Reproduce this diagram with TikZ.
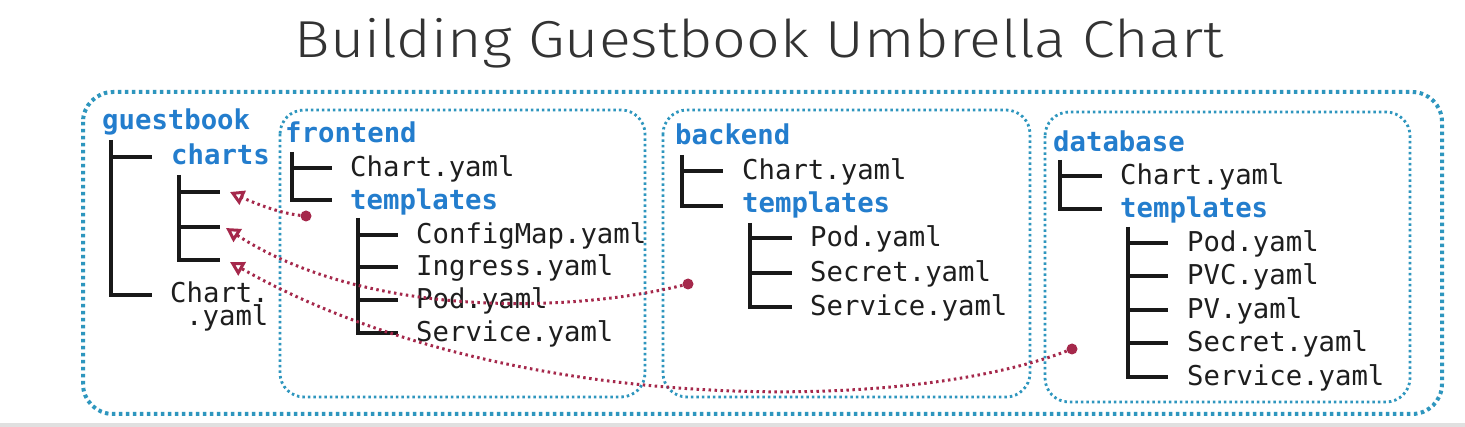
\documentclass[tikz,border=0pt]{standalone}
\usepackage{fontspec}
\setmonofont{DejaVu Sans Mono}
\newfontfamily\titlefont{Fira Sans Light}
\usetikzlibrary{arrows.meta}
\definecolor{boxcol}{RGB}{46,150,190}
\definecolor{dircol}{RGB}{35,125,205}
\definecolor{linkcol}{RGB}{165,40,75}
\definecolor{txtcol}{RGB}{30,30,30}
\tikzset{
 outerbox/.style={draw=boxcol, line width=4pt, dash pattern=on 3.5pt off 3.5pt, rounded corners=30pt},
 innerbox/.style={draw=boxcol, line width=2.8pt, dash pattern=on 2.5pt off 3pt, rounded corners=24pt},
 dirlabel/.style={anchor=base west, inner sep=0pt, font=\fontsize{27.3}{27}\selectfont\ttfamily\bfseries, text=dircol},
 filelabel/.style={anchor=base west, inner sep=0pt, font=\fontsize{27.3}{27}\selectfont\ttfamily, text=txtcol},
 treeline/.style={draw=black!90, line width=3.2pt},
 link/.style={draw=linkcol, line width=3pt, dash pattern=on 2.5pt off 3.5pt, -{Triangle[open,length=14pt,width=15pt,line width=3pt]}},
 linkdot/.style={circle, fill=linkcol, inner sep=0pt, minimum size=11pt},
}
\begin{document}
\begin{tikzpicture}[x=1pt,y=-1pt]
\useasboundingbox (0,0) rectangle (1465,427);
\fill[white] (0,0) rectangle (1465,427);
\fill[black!12] (0,423) rectangle (1465,427);

% title
\node[font=\titlefont\fontsize{52}{52}\selectfont, text=black!80, anchor=base, inner sep=0pt] (title) at (759,58) {\scalebox{1.138}[1]{Building Guestbook Umbrella Chart}};

% boxes
\draw[outerbox] (83,92) rectangle (1442,414);
\draw[innerbox] (280,110) rectangle (645,397);
\draw[innerbox] (663,110) rectangle (1030,397);
\draw[innerbox] (1045,112) rectangle (1410,402);

% guestbook
\node[dirlabel] (gb) at (102,130) {guestbook};
\node[dirlabel] (gbcharts) at (171,165) {charts};
\node[filelabel] (gbchart1) at (170,303) {Chart.};
\node[filelabel] (gbchart2) at (186,326) {.yaml};
\draw[treeline] (111,140) -- (111,295) -- (152,295);
\draw[treeline] (111,157) -- (152,157);
\draw[treeline] (179,175) -- (179,260) -- (220,260);
\draw[treeline] (179,192) -- (220,192);
\draw[treeline] (179,227) -- (220,227);

% frontend
\node[dirlabel] (fe) at (285,143) {frontend};
\draw[treeline] (292,152) -- (292,200) -- (332,200);
\draw[treeline] (292,168) -- (332,168);
\node[filelabel] (fechart) at (350,177) {Chart.yaml};
\node[dirlabel] (fetpl) at (350,210) {templates};
\draw[treeline] (358,218) -- (358,333) -- (398,333);
\foreach \y in {235,267,300} \draw[treeline] (358,\y) -- (398,\y);
\node[filelabel] (fe1) at (416,244) {ConfigMap.yaml};
\node[filelabel] (fe2) at (416,276) {Ingress.yaml};
\node[filelabel] (fe3) at (416,309) {Pod.yaml};
\node[filelabel] (fe4) at (416,342) {Service.yaml};

% backend
\node[dirlabel] (be) at (675,145) {backend};
\draw[treeline] (682,155) -- (682,206) -- (723,206);
\draw[treeline] (682,171) -- (723,171);
\node[filelabel] (bechart) at (742,180) {Chart.yaml};
\node[dirlabel] (betpl) at (742,213) {templates};
\draw[treeline] (750,223) -- (750,307) -- (792,307);
\foreach \y in {238,273} \draw[treeline] (750,\y) -- (792,\y);
\node[filelabel] (be1) at (810,247) {Pod.yaml};
\node[filelabel] (be2) at (810,282) {Secret.yaml};
\node[filelabel] (be3) at (810,316) {Service.yaml};

% database
\node[dirlabel] (db) at (1053,152) {database};
\draw[treeline] (1060,160) -- (1060,209) -- (1102,209);
\draw[treeline] (1060,176) -- (1102,176);
\node[filelabel] (dbchart) at (1120,185) {Chart.yaml};
\node[dirlabel] (dbtpl) at (1120,218) {templates};
\draw[treeline] (1128,227) -- (1128,377) -- (1168,377);
\foreach \y in {243,276,310,343} \draw[treeline] (1128,\y) -- (1168,\y);
\node[filelabel] (db1) at (1187,252) {Pod.yaml};
\node[filelabel] (db2) at (1187,285) {PVC.yaml};
\node[filelabel] (db3) at (1187,319) {PV.yaml};
\node[filelabel] (db4) at (1187,352) {Secret.yaml};
\node[filelabel] (db5) at (1187,386) {Service.yaml};

% links
\coordinate (t1) at (230,192);
\coordinate (t2) at (226,228);
\coordinate (t3) at (230,262);
\node[linkdot] (d1) at (306,216) {};
\node[linkdot] (d2) at (688,284) {};
\node[linkdot] (d3) at (1072,349) {};
\draw[link] (d1) .. controls (278,213) and (252,202) .. (t1);
\draw[link] (d2) .. controls (560,315) and (360,315) .. (t2);
\draw[link] (d3) .. controls (900,415) and (500,415) .. (t3);
\end{tikzpicture}
\end{document}
